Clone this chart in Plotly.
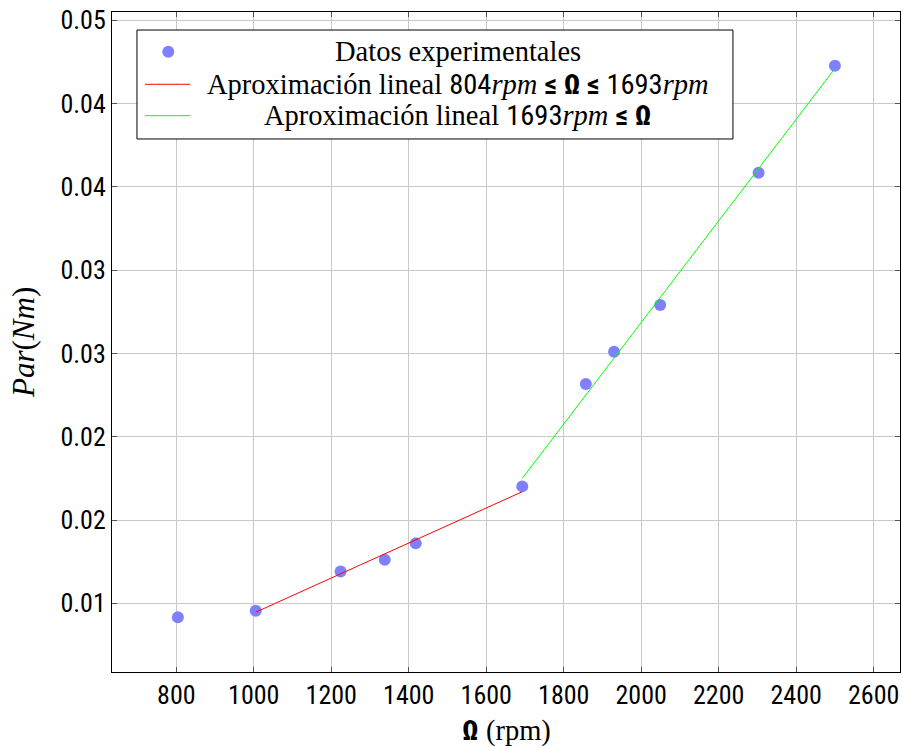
import plotly.graph_objects as go

# Measured torque versus rotational speed
omega_rpm = [804, 1005, 1224, 1338, 1418, 1693, 1857, 1930, 2049, 2303, 2500]
par_nm = [0.00916, 0.00956, 0.01191, 0.01262, 0.0136, 0.01702, 0.02316, 0.0251,
          0.0279, 0.03584, 0.04226]

# Linear fits for the two speed ranges
fit_low_x = [1005, 1693]
fit_low_y = [0.00947, 0.0167]
fit_high_x = [1693, 2500]
fit_high_y = [0.0175, 0.0421]

# Axis ticks
x_ticks = [800, 1000, 1200, 1400, 1600, 1800, 2000, 2200, 2400, 2600]
y_ticks = [0.010, 0.015, 0.020, 0.025, 0.030, 0.035, 0.040, 0.045]
y_tick_text = ["0.01", "0.02", "0.02", "0.03", "0.03", "0.04", "0.04", "0.05"]

SANS = "Liberation Sans Narrow, Arial Narrow, Roboto Condensed, sans-serif"
SERIF = "Liberation Serif, Times New Roman, serif"
SANS_SPAN = '<span style="font-family:' + SANS + '">'

BLUE = "#8080ff"
RED = "#ff0000"
GREEN = "#00ff00"

fig = go.Figure()
fig.add_trace(go.Scatter(
    x=omega_rpm, y=par_nm, mode="markers",
    marker=dict(color=BLUE, size=12, line=dict(width=0)),
    showlegend=False,
))
fig.add_trace(go.Scatter(
    x=fit_low_x, y=fit_low_y, mode="lines",
    line=dict(color=RED, width=1), showlegend=False,
))
fig.add_trace(go.Scatter(
    x=fit_high_x, y=fit_high_y, mode="lines",
    line=dict(color=GREEN, width=1), showlegend=False,
))

axis_common = dict(
    showgrid=True, gridcolor="#c8c8c8", gridwidth=1,
    showline=True, linecolor="#000000", linewidth=1, mirror="ticks",
    ticks="inside", ticklen=5, tickcolor="#555555", tickwidth=1,
    zeroline=False,
    tickfont=dict(family=SANS, size=26, color="#000000"),
)

fig.update_xaxes(range=[634, 2668], tickvals=x_ticks,
                 ticktext=[str(v) for v in x_ticks], **axis_common)
fig.update_yaxes(range=[0.00588, 0.04549], tickvals=y_ticks,
                 ticktext=y_tick_text, **axis_common)

# Legend box built from shapes and centered text rows
legend_rows_y = [0.9398, 0.8905, 0.8429]
legend_labels = [
    "Datos experimentales",
    "Aproximación lineal " + SANS_SPAN + "804</span><i>rpm</i> "
    + SANS_SPAN + "<b>≤ Ω ≤</b> 1693</span><i>rpm</i>",
    "Aproximación lineal " + SANS_SPAN + "1693</span><i>rpm</i> "
    + SANS_SPAN + "<b>≤ Ω</b></span>",
]

shapes = [
    dict(type="rect", xref="paper", yref="paper", x0=0.0317, x1=0.788,
         y0=0.8076, y1=0.9727, fillcolor="white",
         line=dict(color="black", width=1), layer="above"),
    dict(type="circle", xref="paper", yref="paper", xsizemode="pixel",
         ysizemode="pixel", xanchor=0.0714, yanchor=legend_rows_y[0],
         x0=-6, x1=6, y0=-6, y1=6, fillcolor=BLUE, line=dict(width=0),
         layer="above"),
    dict(type="line", xref="paper", yref="paper", x0=0.0419, x1=0.099,
         y0=legend_rows_y[1], y1=legend_rows_y[1],
         line=dict(color=RED, width=1), layer="above"),
    dict(type="line", xref="paper", yref="paper", x0=0.0419, x1=0.099,
         y0=legend_rows_y[2], y1=legend_rows_y[2],
         line=dict(color=GREEN, width=1), layer="above"),
]

annotations = []
for label, ry in zip(legend_labels, legend_rows_y):
    annotations.append(dict(
        text=label, xref="paper", yref="paper", x=0.439, y=ry,
        xanchor="center", yanchor="middle", showarrow=False,
        font=dict(family=SERIF, size=28.5, color="black"),
    ))

# Axis titles
annotations.append(dict(
    text=SANS_SPAN + "<b>Ω</b></span> (rpm)", xref="paper", yref="paper",
    x=0.5, y=-0.088, xanchor="center", yanchor="middle", showarrow=False,
    font=dict(family=SERIF, size=28.5, color="black"),
))
annotations.append(dict(
    text="<i>Par</i>(<i>Nm</i>)", xref="paper", yref="paper",
    x=-0.113, y=0.5, xanchor="center", yanchor="middle", showarrow=False,
    textangle=-90, font=dict(family=SERIF, size=31, color="black"),
))

fig.update_layout(
    width=903, height=746, autosize=False,
    margin=dict(l=112, r=3, t=12, b=74),
    paper_bgcolor="white", plot_bgcolor="white",
    shapes=shapes, annotations=annotations,
    showlegend=False,
)

fig.write_html("out.html")
